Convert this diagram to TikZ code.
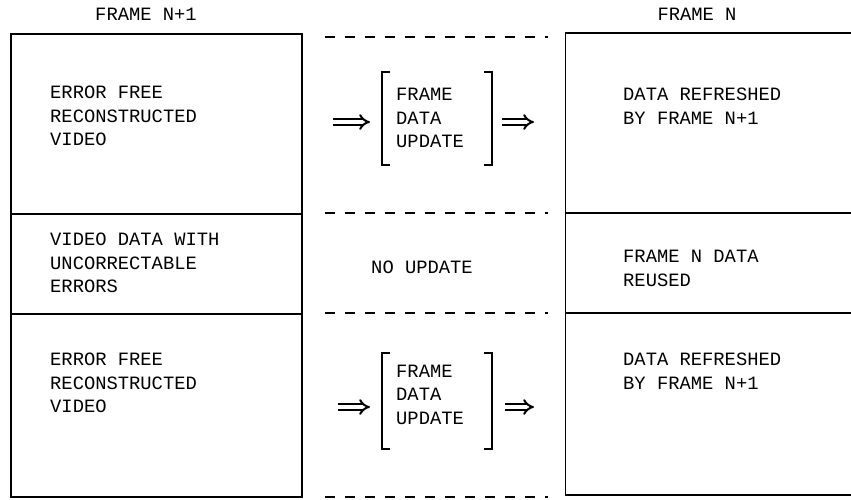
\documentclass[tikz,border=0pt]{standalone}
\usepackage{fontspec}
\setmonofont{Liberation Mono}
\usetikzlibrary{arrows.meta}

\begin{document}
\begin{tikzpicture}[x=1pt, y=-1pt]
\tikzstyle{cell} = [rectangle, draw=black, line width=1.8pt, minimum width=291pt, inner sep=0pt]
\tikzstyle{txt} = [anchor=base west, inner sep=0pt, align=left, font=\ttfamily\fontsize{18.8}{23.5}\selectfont]
\tikzstyle{frametitle} = [anchor=base, inner sep=0pt, font=\ttfamily\fontsize{18.8}{23.5}\selectfont]
\tikzstyle{brk} = [rectangle, minimum width=110pt, inner sep=0pt]
\tikzstyle{bar} = [line width=2pt]
\tikzstyle{dashline} = [line width=1.5pt, dash pattern=on 10pt off 10pt]
\tikzstyle{arrow} = [double, double distance=3.2pt, line width=2pt, -{Implies}]

\path [use as bounding box] (0,0) rectangle (851,499);
\clip (0,0) rectangle (851,499);

 %frame headings
\node (hdl) [frametitle] at (146,20.5) {FRAME N+1};
\node (hdr) [frametitle] at (697,20.5) {FRAME N};

 %left and right columns (text placed by its last baseline)
\node (lt) [cell, minimum height=180pt] at (156.5,124) {};
\node (lm) [cell, minimum height=100pt] at (156.5,264) {};
\node (lb) [cell, minimum height=183pt] at (156.5,405.5) {};
\node (rt) [cell, minimum height=180pt] at (711,123) {};
\node (rm) [cell, minimum height=100pt] at (711,263) {};
\node (rb) [cell, minimum height=182pt] at (711,404) {};

\node (ltx) [txt] at (50,145.5) {ERROR FREE\\RECONSTRUCTED\\VIDEO};
\node (lmx) [txt] at (50,292.5) {VIDEO DATA WITH\\UNCORRECTABLE\\ERRORS};
\node (lbx) [txt] at (50,412.5) {ERROR FREE\\RECONSTRUCTED\\VIDEO};
\node (rtx) [txt] at (623,124) {DATA REFRESHED\\BY FRAME N+1};
\node (rmx) [txt] at (623,286) {FRAME N DATA\\REUSED};
\node (rbx) [txt] at (623,389) {DATA REFRESHED\\BY FRAME N+1};

 %middle column
\foreach \y in {37,213,313,497}
  \draw [dashline] (325,\y) -- (548,\y);

\node (bk1) [brk, minimum height=93pt] at (437,118.5) {};
\node (bk2) [brk, minimum height=96pt] at (437,401) {};
\foreach \b in {bk1,bk2} {
  \draw [bar] ([xshift=8pt]\b.north west) -| (\b.south west) -- ++(8,0);
  \draw [bar] ([xshift=-8pt]\b.north east) -| (\b.south east) -- ++(-8,0);
}
\node (up1) [txt] at (396,147.5) {FRAME\\DATA\\UPDATE};
\node (up2) [txt] at (396,424) {FRAME\\DATA\\UPDATE};
\node (noup) [frametitle] at (422,273.5) {NO UPDATE};

\coordinate (a1) at (333,122);
\coordinate (b1) at (370,122);
\coordinate (c1) at (502,122);
\coordinate (d1) at (534,122);
\coordinate (a2) at (338,407);
\coordinate (b2) at (370,407);
\coordinate (c2) at (505,407);
\coordinate (d2) at (534,407);

 %update arrows
\draw [arrow](a1) -- (b1);
\draw [arrow](c1) -- (d1);
\draw [arrow](a2) -- (b2);
\draw [arrow](c2) -- (d2);
\end{tikzpicture}
\end{document}
